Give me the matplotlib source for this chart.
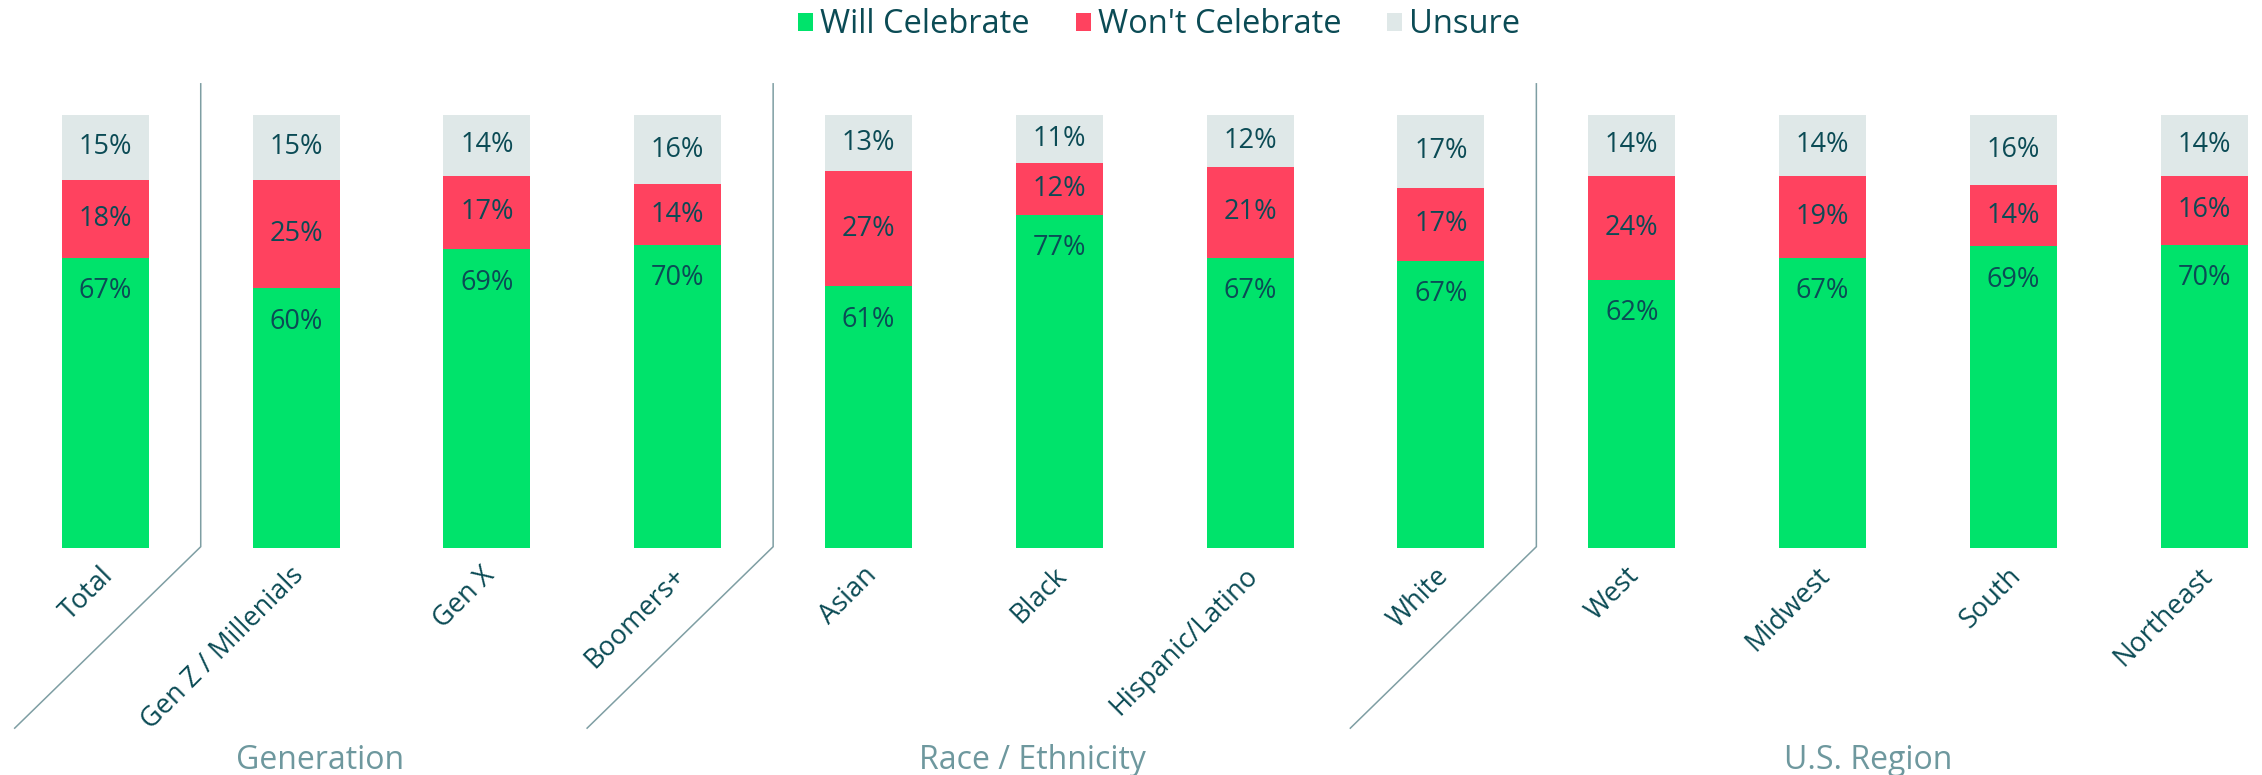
import matplotlib
matplotlib.use("Agg")
import matplotlib.pyplot as plt
from matplotlib.patches import Patch
import numpy as np

categories = ["Total", "Gen Z / Millenials", "Gen X", "Boomers+", "Asian", "Black",
              "Hispanic/Latino", "White", "West", "Midwest", "South", "Northeast"]
will = [67, 60, 69, 70, 61, 77, 67, 67, 62, 67, 69, 70]
wont = [18, 25, 17, 14, 27, 12, 21, 17, 24, 19, 14, 16]
unsure = [15, 15, 14, 16, 13, 11, 12, 17, 14, 14, 16, 14]
series_names = ["Will Celebrate", "Won't Celebrate", "Unsure"]
groups = ["Generation", "Race / Ethnicity", "U.S. Region"]
group_pos = [1.125, 4.86, 9.24]
separators = [0.5, 3.5, 7.5]

GREEN = "#00E36B"
RED = "#FF425F"
GREY = "#DFE8E8"
TEXT = "#0B4B55"
GROUPC = "#6E989E"
LINEC = "#7E9EA3"

plt.rcParams['font.family'] = ['Open Sans', 'DejaVu Sans']

fig = plt.figure(figsize=(22.62, 7.75), dpi=100)
ax = fig.add_axes([0, 0, 1, 1])
ax.set_xlim(-0.552, 11.303)
ax.set_ylim(-52.42, 126.56)
ax.axis('off')

x = np.arange(len(categories))
w = np.array(will, float); r = np.array(wont, float); u = np.array(unsure, float)
tot = w + r + u
wn, rn, un = w / tot * 100, r / tot * 100, u / tot * 100
bw = 0.456
ax.bar(x, wn, bw, color=GREEN, linewidth=0)
ax.bar(x, rn, bw, bottom=wn, color=RED, linewidth=0)
ax.bar(x, un, bw, bottom=wn + rn, color=GREY, linewidth=0)

fs_val = 19.5
for i in range(len(x)):
    ax.annotate(f"{will[i]}%", (x[i], wn[i]), xytext=(0, -24), textcoords='offset points',
                ha='center', va='center', fontsize=fs_val, color=TEXT)
    ax.text(x[i], wn[i] + rn[i] / 2, f"{wont[i]}%", ha='center', va='center',
            fontsize=fs_val, color=TEXT)
    ax.text(x[i], wn[i] + rn[i] + un[i] / 2, f"{unsure[i]}%", ha='center', va='center',
            fontsize=fs_val, color=TEXT)
    ax.text(x[i] + 0.02, -5.5, categories[i], rotation=45, rotation_mode='anchor',
            ha='right', va='center', fontsize=19.5, color=TEXT)

for s in separators:
    ax.plot([s, s, s - 0.975], [107.2, 0.3, -41.6], color=LINEC, lw=1.1,
            solid_joinstyle='miter')

for g, gp in zip(groups, group_pos):
    ax.text(gp, -49.0, g, ha='center', va='center', fontsize=23, color=GROUPC)

handles = [Patch(facecolor=c, edgecolor='none') for c in (GREEN, RED, GREY)]
fig.legend(handles, series_names, loc='center', bbox_to_anchor=(0.5125, 0.968),
           ncol=3, frameon=False, fontsize=23.5, labelcolor=TEXT,
           handlelength=0.46, handleheight=0.46, handletextpad=0.22,
           columnspacing=1.4, borderpad=0)

fig.savefig("out.png", dpi=100)
